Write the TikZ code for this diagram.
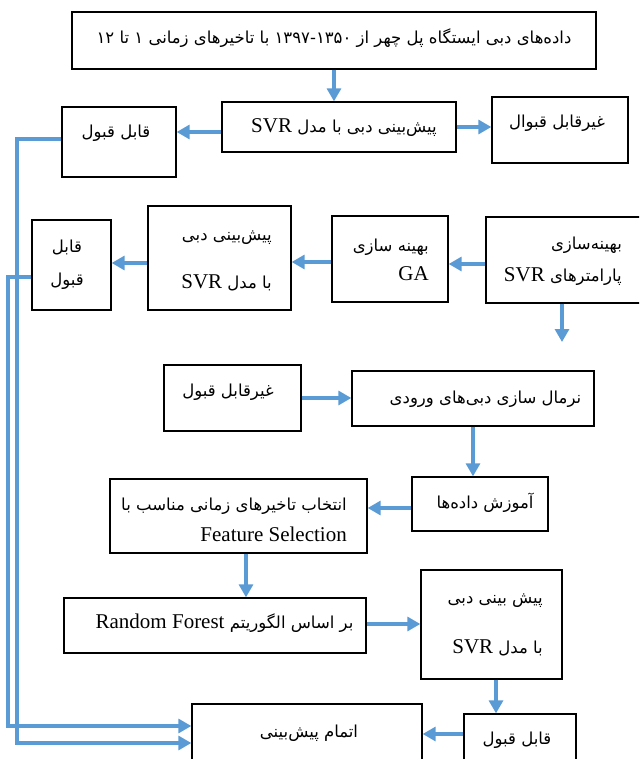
\documentclass[tikz,border=0pt]{standalone}
\usepackage{fontspec}
\setmainfont{Liberation Serif}
\newfontfamily\fa[Script=Arabic]{DejaVu Sans}
\TeXXeTstate=1
\usepackage{tikz}
\usetikzlibrary{positioning,arrows.meta}
\definecolor{flowblue}{RGB}{91,155,213}
\newcommand\rtl[1]{\beginR #1\endR}
\newcommand\lat[1]{{\rmfamily\fontsize{21}{24}\selectfont #1}}
\tikzset{box/.style={draw=black,line width=1.3pt,inner sep=0pt},
  lab/.style={font=\fa\fontsize{16.5}{29}\selectfont,inner sep=0pt},
  go/.style={draw=flowblue,line width=3.1pt,-{Triangle[length=13pt,width=14pt]}}}

\begin{document}
\begin{tikzpicture}[x=1pt,y=-1pt]
        \useasboundingbox (0,0) rectangle (639,759);
        \clip (0,0) rectangle (639,759);
        %boxes
            \draw (334,40.5) node(data) [box,minimum width=524pt,minimum height=57pt] {}
                  (339,127) node(svr) [box,minimum width=234pt,minimum height=50pt] {}
                  (560,130) node(nok1) [box,minimum width=136pt,minimum height=66pt] {}
                  (119,142) node(ok1) [box,minimum width=114pt,minimum height=70pt] {}
                  (71.5,265) node(ok2) [box,minimum width=79pt,minimum height=90pt] {}
                  (219.5,258) node(pred1) [box,minimum width=143pt,minimum height=104pt] {}
                  (390,259) node(ga) [box,minimum width=116pt,minimum height=86pt] {}
                  (565.5,260) node(opt) [box,minimum width=159pt,minimum height=86pt] {}
                  (232.5,398) node(nok2) [box,minimum width=137pt,minimum height=66pt] {}
                  (473,398.5) node(norm) [box,minimum width=242pt,minimum height=55pt] {}
                  (480,504) node(train) [box,minimum width=136pt,minimum height=54pt] {}
                  (238.5,516) node(sel) [box,minimum width=257pt,minimum height=74pt] {}
                  (215,625.5) node(rf) [box,minimum width=302pt,minimum height=55pt] {}
                  (491.5,624.5) node(pred2) [box,minimum width=141pt,minimum height=109pt] {}
                  (520,749) node(ok3) [box,minimum width=112pt,minimum height=70pt] {}
                  (307,739) node(done) [box,minimum width=230pt,minimum height=70pt] {};
        %texts
            \draw (334,38) node(tdata) [lab] {\rtl{داده^^^^200cهای دبی ایستگاه پل چهر  از ۱۳۵۰\kern0pt-\kern0pt۱۳۹۷ با تاخیرهای زمانی ۱ تا ۱۲}}
                  (344,128) node(tsvr) [lab] {\rtl{پیش^^^^200cبینی دبی با مدل \lat{SVR}}}
                  (557,123) node(tnok1) [lab] {\rtl{غیرقابل قبوال}}
                  (116,133) node(tok1) [lab] {\rtl{قابل  قبول}}
                  (67,265) node(tok2) [lab,align=center] {\rtl{قابل}\\[4pt]\rtl{قبول}}
                  (272,261) node(tpred1) [lab,anchor=east,align=right] {\rtl{پیش^^^^200cبینی دبی}\\[19pt]\rtl{با مدل \lat{SVR}}}
                  (429,259.5) node(tga) [lab,anchor=east,align=right] {\rtl{بهینه سازی}\\\lat{GA}}
                  (622,261) node(topt) [lab,anchor=east,align=right] {\rtl{بهینه^^^^200cسازی}\\[3pt]\rtl{پارامترهای \lat{SVR}}}
                  (228,392) node(tnok2) [lab] {\rtl{غیرقابل قبول}}
                  (485.5,399) node(tnorm) [lab] {\rtl{نرمال سازی دبی^^^^200cهای ورودی}}
                  (485,503) node(ttrain) [lab] {\rtl{آموزش داده^^^^200cها}}
                  (347,520) node(tsel) [lab,anchor=east,align=right] {\rtl{انتخاب تاخیرهای زمانی مناسب با}\\[2pt]\lat{Feature Selection}}
                  (224.5,623) node(trf) [lab] {\rtl{بر اساس الگوریتم \beginL\lat{Random Forest}\endL}}
                  (543,625) node(tpred2) [lab,anchor=east,align=right] {\rtl{پیش بینی دبی}\\[21pt]\rtl{با مدل \lat{SVR}}}
                  (517,740) node(tok3) [lab] {\rtl{قابل قبول}}
                  (309,733) node(tdone) [lab] {\rtl{اتمام پیش^^^^200cبینی}};
        %flow
            \coordinate (free) at (562,342);
            \coordinate (bend1) at (17,743);
            \coordinate (bend2) at (8,726);
            \draw[go] (data.south) to (data.south |- svr.north);
            \draw[go] (svr.east) to (svr.east -| nok1.west);
            \draw[go] ([yshift=-5pt]svr.west) to ([yshift=-5pt]svr.west -| ok1.east);
            \draw[go] ([yshift=-4pt]opt.west) to ([yshift=-4pt]opt.west -| ga.east);
            \draw[go] ([yshift=-3pt]ga.west) to ([yshift=-3pt]ga.west -| pred1.east);
            \draw[go] ([yshift=-5pt]pred1.west) to ([yshift=-5pt]pred1.west -| ok2.east);
            \draw[go] ([xshift=-3.5pt]opt.south) to (free);
            \draw[go] (nok2.east) to (nok2.east -| norm.west);
            \draw[go] (norm.south) to (norm.south |- train.north);
            \draw[go] ([yshift=-4pt]train.west) to ([yshift=-4pt]train.west -| sel.east);
            \draw[go] ([xshift=7.5pt]sel.south) to ([xshift=7.5pt]sel.south |- rf.north);
            \draw[go] ([yshift=1.5pt]rf.east) to ([yshift=1.5pt]rf.east -| pred2.west);
            \draw[go] ([xshift=4.5pt]pred2.south) to ([xshift=4.5pt]pred2.south |- ok3.north);
            \draw[go] ([yshift=15pt]ok3.west) to ([yshift=15pt]ok3.west -| done.east);
            \draw[go] ([yshift=3pt]ok1.west) -| (bend1) -- (bend1 -| done.west);
            \draw[go] ([yshift=-12pt]ok2.west) -| (bend2) -- (bend2 -| done.west);
\end{tikzpicture}
\end{document}
